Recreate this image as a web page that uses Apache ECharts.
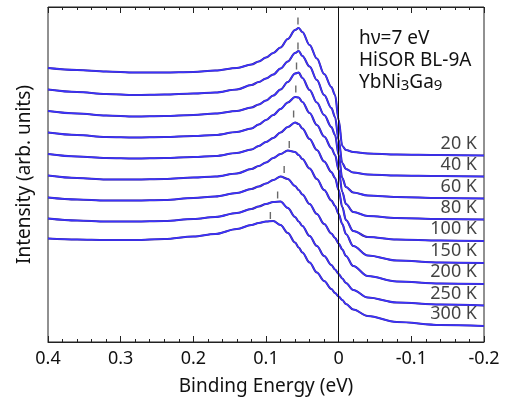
<!DOCTYPE html>
<html>
<head>
<meta charset="utf-8">
<script src="https://cdn.jsdelivr.net/npm/echarts@6/dist/echarts.min.js"></script>
<style>html,body{margin:0;padding:0;background:#fff}#c{width:508px;height:403px}</style>
</head>
<body>
<div id="c"></div>
<script>
// Binding energy grid (eV)
const energy = [0.4,0.36,0.32,0.28,0.24,0.2,0.17,0.14,0.12,0.11,0.1,0.09,0.08,0.07,0.06,0.055,0.05,0.04,0.03,0.02,0.01,0.005,0,-0.005,-0.01,-0.02,-0.04,-0.08,-0.14,-0.2];
// Intensity (arb. units, offset spectra)
const I20K  = [274,272,270.5,269.5,269.5,270,271.5,274,277.5,280.5,284.5,289,294.5,303,312,314,310,297,283.5,268,255,247,222,196,192,190,188.5,187.5,187,186.5];
const I40K  = [252.5,250,248,247,247.5,248.5,249.5,252.5,257,260,263.5,267.5,273.5,280.5,289,291,286,275.5,262,247,234,225,202,179,173,169.5,167.5,166.5,166,165.5];
const I60K  = [231,228.5,226.5,225.5,226,227,228.5,231,234.5,237.5,241.5,246.5,252.5,260,268.5,269.5,264,252,239.5,227,215,207,187,164,155,149.5,146.5,145,144,143.5];
const I80K  = [209.5,207,205,204.5,205,206,207,210,213.5,217.5,222,227,233,239.5,245,244.5,240,229,217,205.5,194,187,172,150,138,130,126,124,123,122.5];
const I100K = [188,185.5,184,183.5,184,185,186,189,192.5,196,200,204,209.5,215,219.5,218,213.5,203,192,180.5,170,164,152,135,122,111,105,102.5,101.5,101];
const I150K = [166.5,164,162.5,162.5,163,164.5,165.5,168.5,173,176,179.5,184,188,191.5,190,187,183,173.5,163,152,141.5,136,128,118,108,96,86.5,81.5,79.5,79];
const I200K = [144.5,142.5,141.5,141.5,142,144,145.5,149,153,155.5,158.5,162,165.5,163,156,152,147.5,138,128,118,108.5,104,98.5,92.5,86,76,66,60.5,58.5,58];
const I250K = [123.5,121.5,120.5,120.5,121,123,125,129,133,135.5,138,140,140.5,134,125,120.5,116,106,96,86,77,72.5,68,63.5,59,52,44.5,39.5,37.5,36.5];
const I300K = [103.5,102.5,102,102,103,105.5,108,113,117,119,120.5,121,117,109,99.5,94.5,89.5,79.5,69.5,61,53,49,45.5,42,38,32.5,26,20,17,16];
const tempLabels = ['20 K','40 K','60 K','80 K','100 K','150 K','200 K','250 K','300 K'];
// peak markers
const tickE = [0.056,0.056,0.058,0.059,0.062,0.068,0.075,0.084,0.094];
const tickI = [321,296,276,253,228,197.5,172.5,147,126.5];
const xTickLabels = {'0.4':'0.4','0.3':'0.3','0.2':'0.2','0.1':'0.1','0':'0','-0.1':'-0.1','-0.2':'-0.2'};

const spectra = [I20K,I40K,I60K,I80K,I100K,I150K,I200K,I250K,I300K];
const FONT = '"Noto Sans", "Open Sans", sans-serif';
const chart = echarts.init(document.getElementById('c'), null, {renderer:'canvas'});

const series = [];
spectra.forEach((arr, k) => {
  const d = energy.map((e, i) => [e, arr[i]]);
  series.push({type:'line', data:d, smooth:0.35, smoothMonotone:'x', symbol:'none', silent:true,
    lineStyle:{color:'#3a2288', width:2.1}, z:2});
  series.push({type:'line', data:d, smooth:0.35, smoothMonotone:'x', symbol:'none', silent:true,
    lineStyle:{color:'#3b33ff', width:1.4}, z:3});
});
series[0].markLine = {silent:true, symbol:'none', label:{show:false},
  lineStyle:{color:'#111', width:1, type:'solid'}, data:[{xAxis:0}], animation:false};
series.push({type:'scatter', data: tickE.map((e,i)=>[e, tickI[i]]), symbol:'rect', symbolSize:[1.4,7],
  itemStyle:{color:'#444'}, silent:true, z:4});
series.push({type:'scatter', data: spectra.map((arr,k)=>({name:tempLabels[k], value:[energy[energy.length-1], arr[arr.length-1]]})),
  symbolSize:0, silent:true,
  label:{show:true, position:'left', distance:7, offset:[0,-12], formatter:p=>p.name, color:'#111', fontSize:18, fontFamily:FONT}});

const xCommon = {type:'value', min:-0.2, max:0.4, interval:0.1, inverse:true,
  axisLine:{lineStyle:{color:'#222', width:1}}, splitLine:{show:false},
  axisTick:{inside:true, length:6, lineStyle:{color:'#222'}},
  minorTick:{show:true, splitNumber:5, length:3, lineStyle:{color:'#222'}}, minorSplitLine:{show:false}};

chart.setOption({
  animation:false,
  grid:{left:48, right:24, top:7, bottom:61, show:true, borderColor:'#222', borderWidth:1, backgroundColor:'transparent'},
  xAxis:[
    Object.assign({}, xCommon, {position:'bottom', name:'Binding Energy (eV)', nameLocation:'middle', nameGap:35,
      nameTextStyle:{fontSize:19, color:'#111', fontFamily:FONT},
      axisLabel:{margin:8, fontSize:18, color:'#111', fontFamily:FONT,
        formatter:v=>{const k=String(Math.round(v*10)/10); return xTickLabels[k]!==undefined?xTickLabels[k]:k;}}}),
    Object.assign({}, xCommon, {position:'top', axisLabel:{show:false}})
  ],
  yAxis:{type:'value', min:0, max:335, axisLine:{show:true, lineStyle:{color:'#222'}}, axisTick:{show:false},
    axisLabel:{show:false}, splitLine:{show:false},
    name:'Intensity (arb. units)', nameLocation:'middle', nameGap:14, nameRotate:90,
    nameTextStyle:{fontSize:19, color:'#111', fontFamily:FONT}},
  graphic:[{type:'text', left:359, top:28, silent:true,
    style:{text:'hν=7 eV\nHiSOR BL-9A\nYbNi{s|3}Ga{s|9}', fontSize:19, lineHeight:22, fill:'#111', fontFamily:FONT,
      rich:{s:{fontSize:15, fontFamily:FONT, fill:'#111', padding:[5,0,0,0]}}}}],
  series:series
});
</script>
</body>
</html>
